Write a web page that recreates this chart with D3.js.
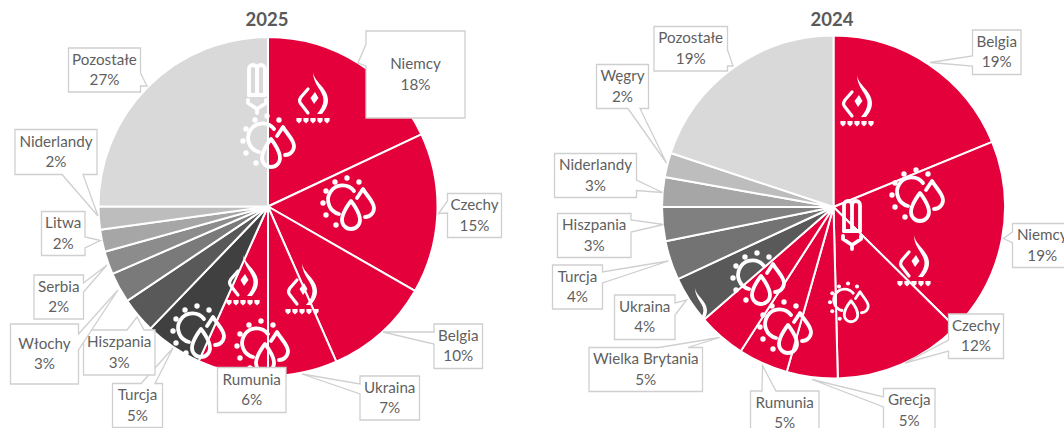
<!DOCTYPE html>
<html>
<head>
<meta charset="utf-8">
<script src="https://cdn.jsdelivr.net/npm/d3@7/dist/d3.min.js"></script>
<style>
html,body{margin:0;padding:0;background:#fff;overflow:hidden}
svg{display:block}
text{font-family:Lato,"Open Sans",sans-serif}
</style>
</head>
<body>
<svg id="c" width="1064" height="428"></svg>
<script>
// ---- data ----
const categories2025 = ["Niemcy","Czechy","Belgia","Ukraina","Rumunia","Turcja","Hiszpania","Włochy","Serbia","Litwa","Niderlandy","Pozostałe"];
const labels2025 = [18,15,10,7,6,5,3,3,2,2,2,27];
const drawn2025 = [18,15.3,10.1,6.6,6.7,5.5,3.4,2.9,2.2,2.1,2.2,25];
const colors2025 = ["#e4003a","#e4003a","#e4003a","#e4003a","#e4003a","#404040","#595959","#7a7a7a","#8c8c8c","#a6a6a6","#bdbdbd","#d9d9d9"];

const categories2024 = ["Belgia","Niemcy","Czechy","Grecja","Rumunia","Wielka Brytania","Ukraina","Turcja","Hiszpania","Niderlandy","Węgry","Pozostałe"];
const labels2024 = [19,19,12,5,5,5,4,4,3,3,2,19];
const drawn2024 = [18.8,18.6,12.2,4.8,4.7,4.5,4.5,3.7,3.2,2.8,2.3,19.9];
const colors2024 = ["#e4003a","#e4003a","#e4003a","#e4003a","#e4003a","#e4003a","#595959","#737373","#808080","#a6a6a6","#bdbdbd","#d9d9d9"];

// ---- layout: callout boxes [x0,y0,x1,y1, wedge side, base start, base end, tipX, tipY], in category order ----
const boxes2025 = [
 [366,31,465,118,"L",66,44,358,63],
 [447.5,193.5,501.5,237.5,"L",213,201,438.5,213.5],
 [434,324,482.5,368.5,"L",344,332,383,332],
 [360,376,419.5,420,"L",394,384,302,374],
 [217.5,367.5,286,412.5,null],
 [112.5,383.5,162.5,427.5,"T",141,155,173,348],
 [83.5,330,155,375,"T",127,144,137,317],
 [10.5,324,78.5,384,"R",334,350,118,290],
 [34,275,83.5,319,"R",283,292,107,265],
 [41.5,211.5,85,255.5,"R",237,248,100.5,240.5],
 [15,129.5,97,174.5,"B",83,62,98,216],
 [68.5,48,140.5,92,"R",73,86,147,86]
];
const boxes2024 = [
 [972.5,30,1021,74.5,"L",66,56,930,62.5],
 [1012.5,223.5,1072,267.5,"L",243,232,1003.5,238.5],
 [948.5,314,1003.5,358.5,"L",351,340,905,363],
 [883.5,388.5,935,432.5,"L",407,397,812,379.5],
 [750.5,391,819,435,"T",762,776,762.5,365.5],
 [589,347.5,702.5,391.5,"T",659,688,719.5,337.5],
 [614.5,295,675,339.5,"R",303,315,686.5,300],
 [552.5,265,602.5,309,"R",272,283,668.5,261],
 [557.5,213.5,631,257.5,"R",220,232,663.5,224.5],
 [554.5,153.5,636.5,197.5,"R",180,190.5,662.5,192.5],
 [596.5,64.5,648.5,108.5,"B",640,628,666.5,163],
 [654,26.5,727.5,71,"R",50,66,733,66]
];
const iconPlacements2025 = [
 ["bulb",257,87,1],["sun",263,138,1],["flame",313,97,1],["sun",343,200,1],
 ["flame",302,288,1],["flame",243,279,1],["sun",257,343,1],["sun",193,328,1]
];
const iconPlacements2024 = [
 ["flame",857,100,1],["sun",912,192,1],["bulb",852,223,1],["flame",914,260,1],
 ["sun",845,300,.75],["sun",753,275,1],["sun",780,324,1],["curl",695,308,.8]
];

const svg = d3.select("#c");

function drawPie(title, cats, labels, drawn, colors, boxes, icons, cx, cy, r, titleX){
  const pie = d3.pie().sort(null).value(d=>d)(drawn);
  const arc = d3.arc().innerRadius(0).outerRadius(r);
  const g = svg.append("g");
  g.append("g").attr("transform",`translate(${cx},${cy})`)
    .selectAll("path").data(pie).join("path")
    .attr("d",arc).attr("fill",(d,i)=>colors[i])
    .attr("stroke","#fff").attr("stroke-width",2).attr("stroke-linejoin","round");

  icons.forEach(([k,x,y,s])=>drawIcon(g,k,x,y,s));

  boxes.forEach((b,i)=>{
    g.append("path").attr("d",calloutPath(b))
      .attr("fill","#fff").attr("stroke","#cfcfcf").attr("stroke-width",1.3).attr("stroke-linejoin","miter");
    const tx=(b[0]+b[2])/2, ty=(b[1]+b[3])/2;
    const t=g.append("text").attr("text-anchor","middle").attr("fill","#5f5f5f").attr("font-size",15.2);
    t.append("tspan").attr("x",tx).attr("y",ty-5.5).text(cats[i]);
    t.append("tspan").attr("x",tx).attr("y",ty+15).text(labels[i]+"%");
  });

  g.append("text").attr("x",titleX).attr("y",26).attr("text-anchor","middle")
    .attr("fill","#595959").attr("font-size",18.5).attr("font-weight",700).text(title);
}

function calloutPath(b){
  const [x0,y0,x1,y1,side,s1,s2,tx,ty]=b;
  const p=[[x0,y0]];
  if(side==="T") p.push([s1,y0],[tx,ty],[s2,y0]);
  p.push([x1,y0]);
  if(side==="R") p.push([x1,s1],[tx,ty],[x1,s2]);
  p.push([x1,y1]);
  if(side==="B") p.push([s1,y1],[tx,ty],[s2,y1]);
  p.push([x0,y1]);
  if(side==="L") p.push([x0,s1],[tx,ty],[x0,s2]);
  return "M"+p.map(q=>q.join(",")).join("L")+"Z";
}

function drawIcon(g,kind,x,y,s){
  const n=g.append("g").attr("transform",`translate(${x},${y}) scale(${s})`);
  const line=(d,w)=>n.append("path").attr("d",d).attr("fill","none").attr("stroke","#fff")
    .attr("stroke-width",w||3.8).attr("stroke-linecap","round").attr("stroke-linejoin","round");
  const solid=d=>n.append("path").attr("d",d).attr("fill","#fff");
  const swoosh="M0,-25C1,-15 15,-9 15,3C15,9 12,13 9,17L4,17C8,12 10.5,8 10.5,3C10.5,-6 0,-12 0,-25Z";
  if(kind==="curl"){ solid(swoosh); return; }
  if(kind==="flame"){
    solid(swoosh);
    line("M-5,-8L-12,0C-14,3 -14,5 -12,7L-5,16",3.2);
    solid("M2,-5L5.5,1L1,7L-2.5,1Z");
    [-14,-7,0,7,14].forEach(dx=>solid(`M${dx-2.6},21H${dx+2.6}V24L${dx},26.5L${dx-2.6},24Z`));
  }
  if(kind==="sun"){
    line("M11,-9A14.5,14.5 0 1 0 -4,14");
    [[-8,-18],[4,-22],[16,-18],[-17,-9],[-20,3],[-17,15],[-7,25]].forEach(([a,b])=>
      n.append("circle").attr("cx",a).attr("cy",b).attr("r",2.7).attr("fill","#fff"));
    line("M8,1C8,1 17,12 17,20A9,9 0 0 1 -1,20C-1,12 8,1 8,1Z");
    line("M14,-2L20,-11C24,-4 31,2 31,8C31,13 27,17 22,17");
  }
  if(kind==="bulb"){
    line("M-8,8V-18A4,4 0 0 1 0,-18V8");
    line("M0,-18A4,4 0 0 1 8,-18V8");
    line("M-8,8H8");
    line("M-9,13V16L0,22L9,16V13");
    line("M0,22V26");
  }
}

drawPie("2025",categories2025,labels2025,drawn2025,colors2025,boxes2025,iconPlacements2025,268,206.5,169.5,267);
drawPie("2024",categories2024,labels2024,drawn2024,colors2024,boxes2024,iconPlacements2024,833.5,207,171.5,832);
</script>
</body>
</html>
